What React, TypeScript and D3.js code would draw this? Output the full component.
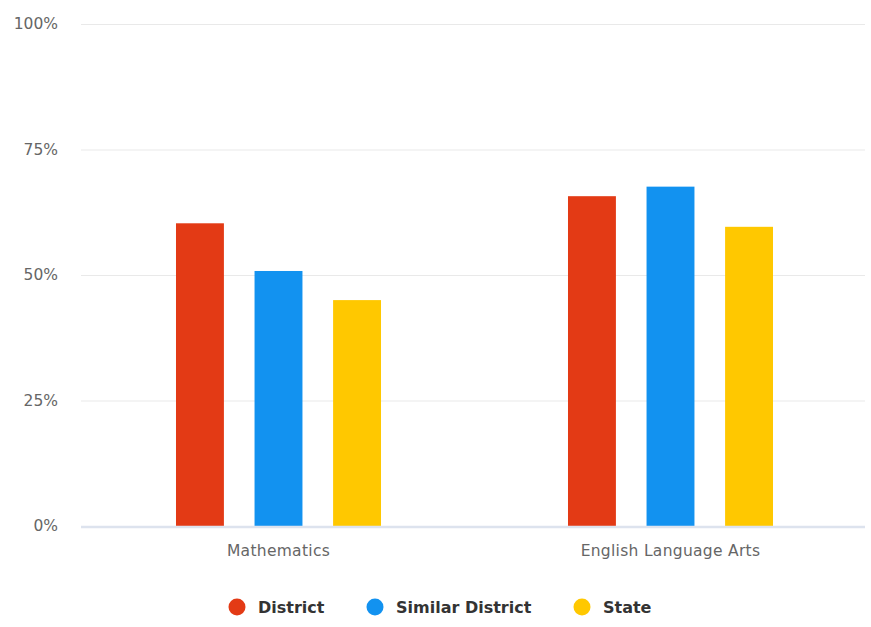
import React from "react";
import * as d3 from "d3";

const categories = ["Mathematics", "English Language Arts"];
const seriesNames = ["District", "Similar District", "State"];
const districtValues = [60.3, 65.7];
const similarValues = [50.8, 67.6];
const stateValues = [45.0, 59.6];
const yTicks = [0, 25, 50, 75, 100];
const colors = ["#E33A15", "#1292F0", "#FFC800"];

const W = 871;
const H = 627;
const left = 81;
const right = 865;
const top = 24;
const bottom = 526;

export default function App() {
  const seriesValues = [districtValues, similarValues, stateValues];
  const x0 = d3.scaleBand<string>().domain(categories).range([left + 1.5, right + 1.5]).paddingInner(0.477).paddingOuter(0.2385);
  const x1 = d3.scaleBand<string>().domain(seriesNames).range([0, x0.bandwidth()]).paddingInner(0.39);
  const y = d3.scaleLinear().domain([0, 100]).range([bottom, top]);

  const font = "'DejaVu Sans', Verdana, sans-serif";
  const legendX = [237, 375, 582];

  return (
    <div style={{ position: "absolute", left: 0, top: 0 }}>
      <svg width={W} height={H} style={{ display: "block", background: "#fff" }}>
        {yTicks.map((t) =>
          t === 0 ? null : (
            <line key={"g" + t} x1={left} x2={right} y1={y(t) + 0.5} y2={y(t) + 0.5} stroke="#e9e9e9" strokeWidth={1} />
          )
        )}
        {yTicks.map((t) => (
          <text key={"yl" + t} x={58} y={y(t) + 5} textAnchor="end" fontFamily={font} fontSize={15.5} fill="#666">
            {t}%
          </text>
        ))}
        {categories.map((c, ci) =>
          seriesNames.map((s, si) => {
            const v = seriesValues[si][ci];
            return (
              <rect
                key={c + s}
                x={(x0(c) as number) + (x1(s) as number)}
                y={y(v)}
                width={x1.bandwidth()}
                height={y(0) - y(v)}
                fill={colors[si]}
              />
            );
          })
        )}
        <line x1={left} x2={right} y1={y(0) + 1} y2={y(0) + 1} stroke="#dde3ee" strokeWidth={2.5} />
        {categories.map((c) => (
          <text
            key={"xl" + c}
            x={(x0(c) as number) + x0.bandwidth() / 2}
            y={556}
            textAnchor="middle"
            fontFamily={font}
            fontSize={15.5}
            letterSpacing={0.3}
            fill="#666"
          >
            {c}
          </text>
        ))}
        {seriesNames.map((s, i) => (
          <g key={"lg" + s} transform={`translate(${legendX[i]},607)`}>
            <circle cx={0} cy={0} r={8.5} fill={colors[i]} />
            <text x={21} y={6} fontFamily={font} fontSize={16} fontWeight="bold" fill="#333">
              {s}
            </text>
          </g>
        ))}
      </svg>
    </div>
  );
}
